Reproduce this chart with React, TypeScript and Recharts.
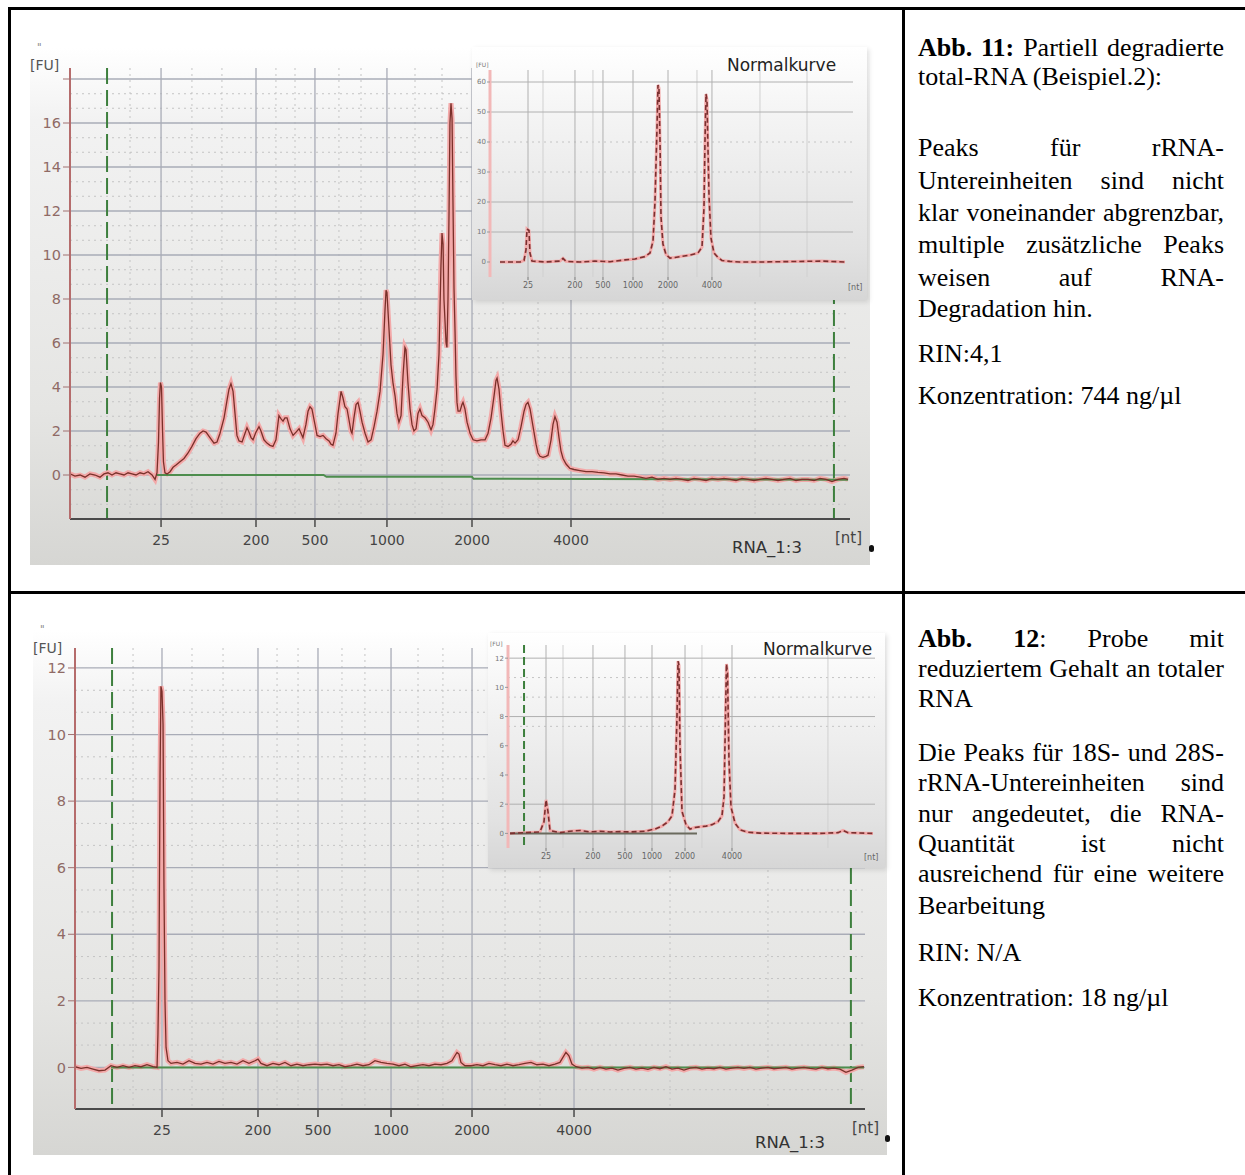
import { CartesianGrid, Line, LineChart, XAxis, YAxis } from 'recharts';

const serif = '"Liberation Serif", "Times New Roman", serif';
const sans = '"DejaVu Sans", Verdana, sans-serif';

const ladderLabels = ['25', '200', '500', '1000', '2000', '4000'];

// Abb. 11 – partially degraded total RNA (migration time [s] / fluorescence [FU])
const degradedTime = [
  17.0, 17.33, 17.67, 18.0, 18.33, 18.67, 19.0, 19.27, 19.53, 19.8,
  20.07, 20.33, 20.6, 20.87, 21.13, 21.4, 21.67, 21.93, 22.2, 22.47,
  22.67, 22.8, 22.9, 22.97, 23.03, 23.1, 23.17, 23.23, 23.33, 23.47,
  23.67, 23.87, 24.07, 24.33, 24.6, 24.87, 25.13, 25.4, 25.67, 25.87,
  26.07, 26.33, 26.6, 26.8, 27.0, 27.27, 27.47, 27.6, 27.73, 27.87,
  28.0, 28.13, 28.27, 28.47, 28.67, 28.8, 28.93, 29.07, 29.2, 29.4,
  29.6, 29.73, 29.93, 30.13, 30.33, 30.53, 30.73, 30.93, 31.07, 31.2,
  31.33, 31.47, 31.67, 31.87, 32.07, 32.27, 32.4, 32.53, 32.73, 32.87,
  33.0, 33.13, 33.33, 33.47, 33.67, 33.87, 34.07, 34.27, 34.4, 34.53,
  34.73, 34.87, 35.07, 35.2, 35.33, 35.47, 35.6, 35.73, 35.8, 35.93,
  36.07, 36.2, 36.33, 36.47, 36.67, 36.87, 37.07, 37.27, 37.47, 37.67,
  37.87, 38.0, 38.07, 38.13, 38.27, 38.4, 38.53, 38.67, 38.8, 38.93,
  39.07, 39.2, 39.33, 39.4, 39.53, 39.67, 39.8, 39.93, 40.07, 40.2,
  40.33, 40.47, 40.67, 40.87, 41.07, 41.2, 41.33, 41.47, 41.6, 41.73,
  41.8, 41.87, 41.93, 42.07, 42.13, 42.2, 42.27, 42.33, 42.4, 42.47,
  42.53, 42.6, 42.67, 42.73, 42.8, 42.87, 43.0, 43.13, 43.2, 43.33,
  43.47, 43.67, 43.87, 44.13, 44.4, 44.67, 44.87, 45.07, 45.27, 45.4,
  45.47, 45.6, 45.73, 45.87, 46.0, 46.2, 46.4, 46.53, 46.67, 46.87,
  47.07, 47.27, 47.4, 47.53, 47.67, 47.87, 48.07, 48.2, 48.33, 48.53,
  48.73, 48.87, 49.07, 49.2, 49.33, 49.47, 49.6, 49.73, 49.87, 50.07,
  50.33, 50.6, 51.0, 51.4, 51.8, 52.2, 52.6, 53.0, 53.4, 53.8,
  54.2, 54.6, 55.0, 55.4, 55.8, 56.2, 56.6, 57.0, 57.4, 57.8,
  58.2, 58.6, 59.0, 59.4, 59.8, 60.2, 60.6, 61.0, 61.4, 61.8,
  62.2, 62.6, 63.0, 63.4, 63.8, 64.2, 64.6, 65.0, 65.4, 65.8,
  66.2, 66.6, 67.0, 67.4, 67.8, 68.2, 68.6, 68.87,
];
const degradedFu = [
  0.05, -0.05, 0.0, -0.1, 0.05, 0.0, -0.1, 0.05, 0.1, 0.0,
  0.1, 0.05, 0.0, 0.1, 0.05, 0.0, 0.1, 0.05, 0.15, 0.0,
  -0.2, 0.1, 1.5, 3.5, 4.2, 4.0, 2.0, 0.6, 0.1, 0.05,
  0.15, 0.35, 0.45, 0.6, 0.75, 1.0, 1.3, 1.65, 1.9, 2.0,
  1.95, 1.7, 1.45, 1.5, 1.9, 2.6, 3.4, 3.9, 4.15, 3.8,
  2.8, 1.8, 1.55, 1.5, 1.9, 2.15, 1.95, 1.7, 1.6, 1.95,
  2.2, 2.0, 1.6, 1.45, 1.35, 1.3, 1.6, 2.7, 2.55, 2.45,
  2.6, 2.6, 2.1, 1.8, 1.95, 2.1, 1.9, 1.7, 2.3, 2.9,
  3.1, 3.0, 2.3, 1.8, 1.75, 1.8, 1.65, 1.55, 1.4, 1.35,
  1.9, 2.8, 3.8, 3.5, 3.1, 3.0, 2.5, 2.0, 1.9, 2.6,
  3.2, 3.3, 2.9, 2.4, 1.9, 1.5, 1.6, 2.2, 2.9, 3.8,
  5.5, 7.5, 8.4, 8.3, 6.6, 5.0, 4.2, 3.6, 2.8, 2.4,
  2.7, 4.5, 5.8, 5.7, 4.2, 3.0, 2.3, 2.0, 2.1, 2.8,
  3.0, 2.7, 2.6, 2.4, 2.05, 2.3, 3.0, 3.9, 5.5, 9.5,
  11.0, 10.5, 8.0, 6.0, 5.8, 8.0, 12.0, 16.0, 16.9, 16.2,
  12.5, 8.5, 6.5, 4.5, 3.3, 2.9, 2.9, 3.2, 3.3, 3.0,
  2.4, 1.9, 1.6, 1.55, 1.6, 1.6, 1.9, 2.6, 3.6, 4.3,
  4.4, 3.9, 2.9, 2.0, 1.35, 1.3, 1.4, 1.55, 1.45, 1.6,
  2.2, 2.9, 3.2, 3.3, 3.0, 2.2, 1.4, 1.0, 0.85, 0.8,
  0.85, 0.9, 1.6, 2.3, 2.65, 2.4, 1.7, 1.1, 0.75, 0.5,
  0.3, 0.25, 0.2, 0.15, 0.15, 0.12, 0.1, 0.05, 0.05, 0.0,
  -0.05, -0.05, -0.1, -0.15, -0.1, -0.2, -0.15, -0.2, -0.15, -0.2,
  -0.25, -0.15, -0.2, -0.25, -0.15, -0.2, -0.15, -0.2, -0.25, -0.15,
  -0.2, -0.25, -0.2, -0.15, -0.2, -0.25, -0.2, -0.15, -0.25, -0.2,
  -0.2, -0.25, -0.15, -0.2, -0.3, -0.2, -0.15, -0.2,
];
const degradedBaseTime = [22.8, 33.9, 34.1, 43.8, 43.9, 68.87];
const degradedBaseFu = [0, 0, -0.08, -0.08, -0.17, -0.22];
const degradedLadder = [23.07, 29.4, 33.33, 38.13, 43.8, 50.4];
const degradedMarkers = [19.47, 67.93];
const degradedMinorX = [21.0, 25.13, 27.13, 30.73, 32.0, 34.93, 36.4, 40.0, 41.8, 45.87, 48.2, 56.53, 62.67];
const degradedYTicks = [0, 2, 4, 6, 8, 10, 12, 14, 16, 18];
const degradedMinorY = [-1.33, -0.67, 0.67, 1.33, 2.67, 3.33, 4.67, 5.33, 6.67, 7.33, 8.67, 9.33, 10.67, 11.33, 12.67, 13.33, 14.67, 15.33, 16.67, 17.33];

// Abb. 12 – sample with reduced total RNA
const lowTime = [
  17.0, 17.4, 17.8, 18.2, 18.6, 19.0, 19.4, 19.8, 20.2, 20.6,
  21.0, 21.4, 21.8, 22.2, 22.47, 22.53, 22.6, 22.67, 22.73, 22.8,
  22.87, 22.93, 23.0, 23.07, 23.2, 23.4, 23.8, 24.2, 24.6, 25.0,
  25.4, 25.8, 26.2, 26.6, 27.0, 27.4, 27.8, 28.2, 28.6, 29.0,
  29.2, 29.4, 29.8, 30.2, 30.6, 31.0, 31.4, 31.8, 32.2, 32.6,
  33.0, 33.4, 33.8, 34.2, 34.6, 35.0, 35.4, 35.8, 36.2, 36.6,
  37.0, 37.4, 37.8, 38.2, 38.6, 39.0, 39.4, 39.8, 40.2, 40.6,
  41.0, 41.4, 41.8, 42.13, 42.33, 42.47, 42.6, 42.73, 43.0, 43.4,
  43.8, 44.2, 44.6, 45.0, 45.4, 45.8, 46.2, 46.6, 47.0, 47.4,
  47.8, 48.2, 48.6, 49.0, 49.33, 49.53, 49.73, 49.93, 50.13, 50.4,
  50.8, 51.2, 51.6, 52.0, 52.4, 52.8, 53.2, 53.6, 54.0, 54.4,
  54.8, 55.2, 55.6, 56.0, 56.4, 56.8, 57.2, 57.6, 58.0, 58.4,
  58.8, 59.2, 59.6, 60.0, 60.4, 60.8, 61.2, 61.6, 62.0, 62.4,
  62.8, 63.2, 63.6, 64.0, 64.4, 64.8, 65.2, 65.6, 66.0, 66.4,
  66.8, 67.2, 67.6, 68.0, 68.4, 68.8, 69.2, 69.6,
];
const lowFu = [
  0.02, -0.03, 0.0, -0.05, -0.1, -0.08, 0.05, 0.0, 0.05, 0.0,
  0.05, 0.02, 0.08, 0.02, 0.0, 1.0, 3.0, 8.8, 11.45, 11.3,
  10.3, 5.5, 2.0, 0.6, 0.2, 0.12, 0.15, 0.1, 0.2, 0.12,
  0.1, 0.15, 0.1, 0.18, 0.12, 0.15, 0.1, 0.2, 0.12, 0.2,
  0.25, 0.12, 0.05, 0.12, 0.08, 0.15, 0.05, 0.1, 0.05, 0.08,
  0.1, 0.08, 0.1, 0.05, 0.08, 0.02, 0.05, 0.1, 0.05, 0.08,
  0.2, 0.15, 0.12, 0.1, 0.05, 0.1, 0.02, 0.05, 0.08, 0.05,
  0.1, 0.08, 0.12, 0.2, 0.35, 0.45, 0.4, 0.15, 0.05, 0.05,
  0.08, 0.05, 0.12, 0.08, 0.05, 0.1, 0.05, 0.08, 0.12, 0.15,
  0.08, 0.1, 0.05, 0.1, 0.15, 0.3, 0.45, 0.35, 0.1, 0.02,
  -0.02, 0.0, -0.05, 0.0, -0.05, -0.02, -0.08, -0.03, 0.0, -0.05,
  -0.02, -0.06, 0.0, -0.04, 0.02, -0.05, -0.02, -0.08, -0.02, 0.0,
  -0.05, -0.02, -0.04, 0.0, -0.05, -0.02, 0.0, -0.03, 0.0, -0.05,
  -0.02, 0.0, -0.04, -0.02, 0.0, -0.05, -0.02, 0.0, -0.03, -0.05,
  0.0, -0.04, -0.02, -0.05, -0.15, -0.08, 0.0, 0.02,
];
const lowBaseTime = [19.4, 69.6];
const lowBaseFu = [0, 0];
const lowLadder = [22.8, 29.2, 33.2, 38.07, 43.47, 50.27];
const lowMarkers = [19.47, 68.73];
const lowMinorX = [20.87, 24.8, 26.87, 30.47, 31.87, 34.8, 36.33, 39.87, 41.53, 45.67, 48.0, 56.67, 63.2];
const lowYTicks = [0, 2, 4, 6, 8, 10, 12];
const lowMinorY = [-0.67, 0.67, 1.33, 2.67, 3.33, 4.67, 5.33, 6.67, 7.33, 8.67, 9.33, 10.67, 11.33];

// "Normalkurve" insets (intact reference RNA)
const normal1Time = [
  18.43, 21.29, 21.86, 22.14, 22.29, 22.57, 22.71, 23.0, 24.86, 27.0,
  27.43, 27.86, 29.86, 32.0, 34.14, 36.29, 37.71, 39.14, 39.86, 40.29,
  40.57, 40.86, 41.0, 41.14, 41.29, 41.43, 41.71, 42.14, 42.71, 43.43,
  44.14, 45.57, 46.71, 47.29, 47.57, 47.71, 47.86, 48.0, 48.14, 48.29,
  48.57, 49.0, 49.57, 50.14, 51.29, 52.71, 55.57, 64.43, 67.71,
];
const normal1Fu = [
  0, 0, 0.5, 4, 11, 10.5, 3, 0.3, 0, 0.3,
  1.2, 0.2, 0, 0.3, 0.1, 0.7, 1.0, 1.8, 3.0, 7,
  20, 45, 59, 58, 40, 15, 6, 2.5, 1.3, 1.5,
  1.8, 2.3, 3.0, 5, 18, 40, 56, 54, 38, 22,
  8, 3, 1.5, 0.5, 0.2, 0, 0, 0.3, 0,
];
const normal1Ladder = [22.43, 29.14, 33.14, 37.43, 42.43, 48.71];
const normal1MinorX = [24.57, 31.71, 46.57, 55.57, 62.29];
const normal1YTicks = [0, 10, 20, 30, 40, 50, 60];

const normal2Time = [
  17.29, 21.57, 22.14, 22.43, 22.71, 23.0, 24.43, 25.86, 27.29, 28.71,
  30.14, 31.57, 33.0, 34.43, 36.57, 38.0, 39.0, 39.86, 40.43, 40.86,
  41.14, 41.29, 41.43, 41.57, 41.86, 42.43, 43.0, 43.71, 44.43, 45.29,
  46.14, 47.0, 47.57, 47.86, 48.07, 48.21, 48.36, 48.57, 48.86, 49.43,
  50.14, 51.29, 53.0, 57.29, 61.57, 64.14, 64.86, 65.57, 69.14,
];
const normal2Fu = [
  0, 0.1, 0.8, 2.3, 1.5, 0.2, 0.05, 0.15, 0.2, 0.1,
  0.15, 0.1, 0.12, 0.1, 0.15, 0.3, 0.5, 0.8, 1.2, 3.0,
  8.0, 11.8, 11.5, 6.0, 1.5, 0.6, 0.3, 0.4, 0.45, 0.5,
  0.6, 0.8, 1.2, 2.5, 8.0, 11.6, 11.0, 5.0, 1.8, 0.7,
  0.25, 0.08, 0.02, 0, 0, 0.05, 0.2, 0.05, 0,
];
const normal2BaseTime = [17.29, 44.0];
const normal2BaseFu = [0, 0];
const normal2Ladder = [22.43, 29.14, 33.71, 37.57, 42.29, 49.0];
const normal2MinorX = [24.86, 44.71, 62.71];
const normal2Markers = [19.29];
const normal2YTicks = [0, 2, 4, 6, 8, 10, 12];

type Row = { t: number; v: number };
const toRows = (time: number[], fu: number[]): Row[] => time.map((t, i) => ({ t, v: fu[i] }));

interface TraceProps {
  width: number;
  height: number;
  top: number;
  right: number;
  yWidth: number;
  xHeight: number;
  xDomain: [number, number];
  yDomain: [number, number];
  yTicks: number[];
  yLabelMax: number;
  majorY: number[];
  minorY: number[];
  ladder: number[];
  minorX: number[];
  markers: number[];
  trace: Row[];
  baseline: Row[];
  small?: boolean;
}

function Electropherogram(p: TraceProps) {
  const fmtX = (v: number) => ladderLabels[p.ladder.indexOf(v)] ?? '';
  const fmtY = (v: number) => (v > p.yLabelMax ? '' : String(v));
  const s = p.small;
  return (
    <LineChart width={p.width} height={p.height} margin={{ top: p.top, right: p.right, bottom: 0, left: 0 }}>
      <CartesianGrid vertical={false} horizontalValues={p.minorY} stroke="#c4c4c4" strokeDasharray="2 4" />
      <CartesianGrid horizontal={false} verticalValues={p.minorX} stroke={s ? '#d0d0d0' : '#c4c4c4'} strokeDasharray={s ? undefined : '2 4'} />
      <CartesianGrid horizontalValues={p.majorY} verticalValues={p.ladder} stroke={s ? '#b0b0b0' : '#a9acb7'} strokeWidth={s ? 1 : 1.3} />
      {p.markers.length > 0 && (
        <CartesianGrid horizontal={false} verticalValues={p.markers} stroke="#3d7f3d" strokeWidth={2} strokeDasharray={s ? '8 4' : '16 6'} />
      )}
      <XAxis
        type="number"
        dataKey="t"
        domain={p.xDomain}
        allowDataOverflow
        ticks={p.ladder}
        interval={0}
        tickFormatter={fmtX}
        height={p.xHeight}
        axisLine={s ? false : { stroke: '#4a4a4a', strokeWidth: 2 }}
        tickLine={{ stroke: s ? '#777' : '#4a4a4a', strokeWidth: s ? 1 : 1.5 }}
        tickSize={s ? 3 : 8}
        tickMargin={s ? 2 : 8}
        tick={{ fill: s ? '#666' : '#444', fontSize: s ? 8 : 14, fontFamily: sans }}
      />
      <YAxis
        type="number"
        dataKey="v"
        domain={p.yDomain}
        allowDataOverflow
        ticks={p.yTicks}
        interval={0}
        tickFormatter={fmtY}
        width={p.yWidth}
        axisLine={{ stroke: s ? '#f2b8b8' : '#b56c6c', strokeWidth: s ? 3 : 2 }}
        tickLine={{ stroke: s ? '#999' : '#a07070' }}
        tickSize={s ? 3 : 7}
        tickMargin={s ? 1 : 2}
        tick={{ fill: s ? '#777' : '#8f6a65', fontSize: s ? 7 : 14.5, fontFamily: sans }}
      />
      <Line data={p.trace} dataKey="v" type="linear" stroke="#f3a9a9" strokeWidth={s ? 3 : 5} dot={false} isAnimationActive={false} />
      <Line data={p.baseline} dataKey="v" type="linear" stroke={s ? '#6b6b5e' : '#4d8d4d'} strokeWidth={2} dot={false} isAnimationActive={false} />
      <Line
        data={p.trace}
        dataKey="v"
        type="linear"
        stroke={s ? '#7a3030' : '#7a302a'}
        strokeWidth={s ? 1.6 : 1.3}
        strokeDasharray={s ? '5 3' : undefined}
        dot={false}
        isAnimationActive={false}
      />
    </LineChart>
  );
}

const abs = (left: number, top: number, extra: React.CSSProperties = {}): React.CSSProperties => ({
  position: 'absolute',
  left,
  top,
  ...extra,
});

const panelBg = 'linear-gradient(180deg, #ffffff 0%, #f2f2f2 14%, #e5e5e3 70%, #d6d6d3 100%)';
const insetBg = 'linear-gradient(180deg, #ffffff 0%, #f3f3f3 30%, #e2e2e2 80%, #d6d6d6 100%)';

function Caption({ top, justify, children }: { top: number; justify?: boolean; children: React.ReactNode }) {
  return (
    <div
      style={abs(918, top, {
        width: 306,
        fontFamily: serif,
        fontSize: 26,
        lineHeight: '30px',
        color: '#000',
        textAlign: justify ? 'justify' : 'left',
        textAlignLast: justify ? 'justify' : 'left',
      })}
    >
      {children}
    </div>
  );
}

export default function App() {
  const label = (extra: React.CSSProperties) => ({ fontFamily: sans, whiteSpace: 'nowrap' as const, ...extra });
  return (
    <div style={{ position: 'relative', width: 1245, height: 1175, overflow: 'hidden', background: '#fff' }}>
      <style>{'body{margin:0;overflow:hidden}'}</style>

      {/* table frame */}
      <div style={abs(8, 7, { width: 1240, height: 3, background: '#000' })} />
      <div style={abs(8, 7, { width: 3, height: 1170, background: '#000' })} />
      <div style={abs(902, 7, { width: 3, height: 1170, background: '#000' })} />
      <div style={abs(8, 591, { width: 1240, height: 3, background: '#000' })} />

      {/* Abb. 11 */}
      <div style={abs(30, 48, { width: 840, height: 517, background: panelBg })}>
        <Electropherogram
          width={840}
          height={517}
          top={20}
          right={20}
          yWidth={40}
          xHeight={46}
          xDomain={[17, 69]}
          yDomain={[-2, 18.5]}
          yTicks={degradedYTicks}
          yLabelMax={16}
          majorY={degradedYTicks}
          minorY={degradedMinorY}
          ladder={degradedLadder}
          minorX={degradedMinorX}
          markers={degradedMarkers}
          trace={toRows(degradedTime, degradedFu)}
          baseline={toRows(degradedBaseTime, degradedBaseFu)}
        />
      </div>
      <div style={abs(37, 42, label({ fontSize: 10, color: '#888' }))}>"</div>
      <div style={abs(30, 57, label({ fontSize: 14, lineHeight: '16px', color: '#555' }))}>[FU]</div>
      <div style={abs(835, 529, label({ fontSize: 15, lineHeight: '18px', color: '#444' }))}>[nt]</div>
      <div style={abs(732, 538, label({ fontSize: 16.5, lineHeight: '20px', color: '#333' }))}>RNA_1:3</div>
      <div style={abs(869, 545, { width: 5, height: 7, borderRadius: 3, background: '#111' })} />

      <div style={abs(472, 47, { width: 395, height: 253, background: insetBg, boxShadow: '2px 2px 5px rgba(0,0,0,0.12)' })}>
        <Electropherogram
          small
          width={395}
          height={253}
          top={23}
          right={14}
          yWidth={18}
          xHeight={23}
          xDomain={[17, 68.86]}
          yDomain={[-5, 64]}
          yTicks={normal1YTicks}
          yLabelMax={60}
          majorY={[10, 20, 50, 60]}
          minorY={[30, 40]}
          ladder={normal1Ladder}
          minorX={normal1MinorX}
          markers={[]}
          trace={toRows(normal1Time, normal1Fu)}
          baseline={[]}
        />
      </div>
      <div style={abs(476, 61, label({ fontSize: 6, color: '#777' }))}>[FU]</div>
      <div style={abs(848, 283, label({ fontSize: 8, color: '#666' }))}>[nt]</div>
      <div style={abs(727, 55, label({ fontSize: 17, lineHeight: '20px', color: '#222' }))}>Normalkurve</div>

      {/* Abb. 12 */}
      <div style={abs(33, 630, { width: 854, height: 525, background: panelBg })}>
        <Electropherogram
          width={854}
          height={525}
          top={18}
          right={22}
          yWidth={42}
          xHeight={46}
          xDomain={[17, 69.67]}
          yDomain={[-1.25, 12.6]}
          yTicks={lowYTicks}
          yLabelMax={12}
          majorY={lowYTicks}
          minorY={lowMinorY}
          ladder={lowLadder}
          minorX={lowMinorX}
          markers={lowMarkers}
          trace={toRows(lowTime, lowFu)}
          baseline={toRows(lowBaseTime, lowBaseFu)}
        />
      </div>
      <div style={abs(40, 624, label({ fontSize: 10, color: '#888' }))}>"</div>
      <div style={abs(33, 640, label({ fontSize: 14, lineHeight: '16px', color: '#555' }))}>[FU]</div>
      <div style={abs(852, 1119, label({ fontSize: 15, lineHeight: '18px', color: '#444' }))}>[nt]</div>
      <div style={abs(755, 1133, label({ fontSize: 16.5, lineHeight: '20px', color: '#333' }))}>RNA_1:3</div>
      <div style={abs(885, 1135, { width: 5, height: 7, borderRadius: 3, background: '#111' })} />

      <div style={abs(488, 633, { width: 397, height: 235, background: insetBg, boxShadow: '2px 2px 5px rgba(0,0,0,0.12)' })}>
        <Electropherogram
          small
          width={397}
          height={235}
          top={12}
          right={10}
          yWidth={20}
          xHeight={20}
          xDomain={[17, 69.43]}
          yDomain={[-1, 12.9]}
          yTicks={normal2YTicks}
          yLabelMax={12}
          majorY={[2, 8, 12]}
          minorY={[7.33, 9.33, 10.67]}
          ladder={normal2Ladder}
          minorX={normal2MinorX}
          markers={normal2Markers}
          trace={toRows(normal2Time, normal2Fu)}
          baseline={toRows(normal2BaseTime, normal2BaseFu)}
        />
      </div>
      <div style={abs(490, 640, label({ fontSize: 6, color: '#777' }))}>[FU]</div>
      <div style={abs(864, 853, label({ fontSize: 8, color: '#666' }))}>[nt]</div>
      <div style={abs(763, 639, label({ fontSize: 17, lineHeight: '20px', color: '#222' }))}>Normalkurve</div>

      {/* captions */}
      <Caption top={33} justify>
        <b>Abb. 11:</b> Partiell degradierte
      </Caption>
      <Caption top={62}>total-RNA (Beispiel.2):</Caption>
      <Caption top={133} justify>Peaks für rRNA-</Caption>
      <Caption top={166} justify>Untereinheiten sind nicht</Caption>
      <Caption top={198} justify>klar voneinander abgrenzbar,</Caption>
      <Caption top={230} justify>multiple zusätzliche Peaks</Caption>
      <Caption top={263} justify>weisen auf RNA-</Caption>
      <Caption top={294}>Degradation hin.</Caption>
      <Caption top={339}>RIN:4,1</Caption>
      <Caption top={381}>Konzentration: 744 ng/µl</Caption>

      <Caption top={624} justify>
        <b>Abb.</b> <b>12</b>: Probe mit
      </Caption>
      <Caption top={654} justify>reduziertem Gehalt an totaler</Caption>
      <Caption top={684}>RNA</Caption>
      <Caption top={738} justify>Die Peaks für 18S- und 28S-</Caption>
      <Caption top={768} justify>rRNA-Untereinheiten sind</Caption>
      <Caption top={799} justify>nur angedeutet, die RNA-</Caption>
      <Caption top={829} justify>Quantität ist nicht</Caption>
      <Caption top={859} justify>ausreichend für eine weitere</Caption>
      <Caption top={891}>Bearbeitung</Caption>
      <Caption top={938}>RIN: N/A</Caption>
      <Caption top={983}>Konzentration: 18 ng/µl</Caption>
    </div>
  );
}
